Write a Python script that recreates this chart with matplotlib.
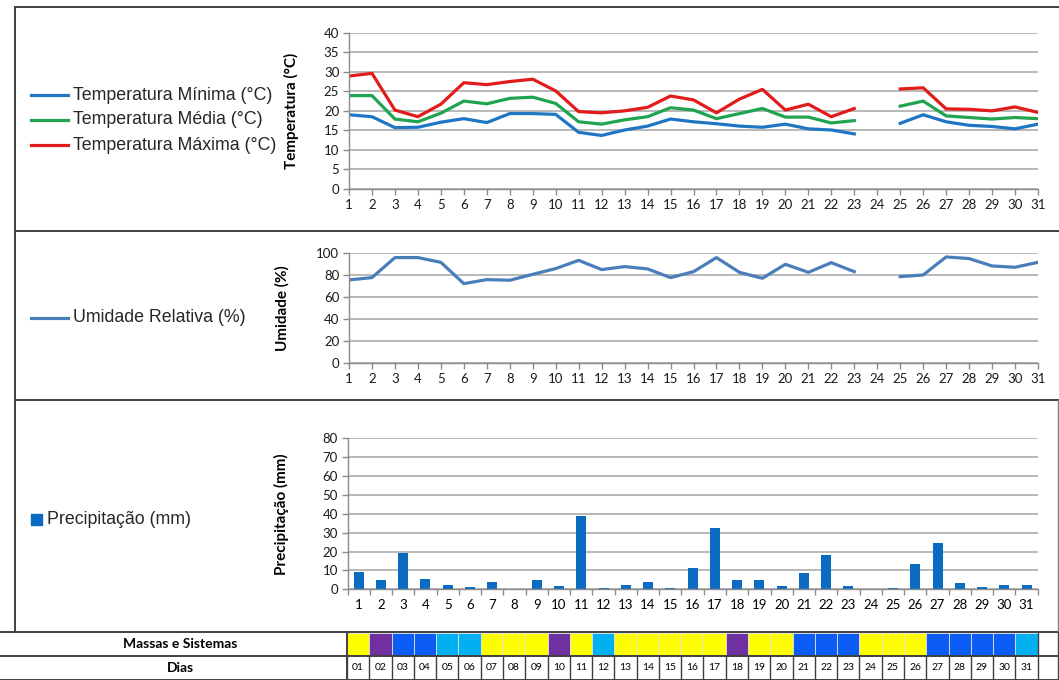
import matplotlib
matplotlib.use("Agg")
import matplotlib.pyplot as plt
from matplotlib.patches import Rectangle
from matplotlib.lines import Line2D
import numpy as np

nan = np.nan
dias = np.arange(1, 32)

t_min = [19.0, 18.5, 15.7, 15.8, 17.1, 18.0, 17.0, 19.3, 19.3, 19.1,
         14.5, 13.7, 15.1, 16.1, 17.9, 17.2, 16.7, 16.1, 15.8, 16.6,
         15.4, 15.1, 14.1, nan, 16.8, 19.0, 17.2, 16.3, 16.0, 15.4, 16.6]
t_med = [23.9, 23.9, 17.9, 17.2, 19.4, 22.5, 21.8, 23.2, 23.5, 21.9,
         17.2, 16.6, 17.7, 18.5, 20.8, 20.2, 18.0, 19.3, 20.6, 18.4,
         18.4, 16.9, 17.5, nan, 21.2, 22.5, 18.7, 18.3, 17.9, 18.3, 18.0]
t_max = [28.9, 29.6, 20.2, 18.5, 21.7, 27.2, 26.7, 27.5, 28.1, 25.1,
         19.8, 19.5, 20.0, 20.9, 23.8, 22.8, 19.5, 23.0, 25.5, 20.2,
         21.7, 18.5, 20.6, nan, 25.6, 25.9, 20.5, 20.4, 20.0, 21.0, 19.6]
umidade = [75.8, 77.9, 96.1, 96.1, 91.8, 72.4, 76.1, 75.5, 80.9, 86.1,
           93.6, 85.2, 87.9, 85.8, 77.9, 83.3, 96.1, 82.7, 77.3, 90.0,
           82.7, 91.5, 83.3, nan, 78.8, 80.3, 96.7, 95.2, 88.5, 87.3, 91.8]
precip = [9.2, 5.1, 19.3, 5.7, 2.3, 1.2, 3.7, 0.4, 5.0, 1.8,
          38.6, 0.7, 2.5, 3.7, 0.7, 11.3, 32.6, 4.8, 5.0, 1.6,
          8.7, 18.2, 1.6, 0.0, 0.9, 13.5, 24.4, 3.2, 1.1, 2.5, 2.5]

# sistemas atuantes por dia: A = amarelo, P = roxo, B = azul, C = azul claro
sistemas = ["A", "P", "B", "B", "C", "C", "A", "A", "A", "P",
            "A", "C", "A", "A", "A", "A", "A", "P", "A", "A",
            "B", "B", "B", "A", "A", "A", "B", "B", "B", "B", "C"]
cores_sistemas = {"A": "#FFFF00", "P": "#7030A0", "B": "#0A5CF5", "C": "#00B0F0"}

W, H = 1059, 680
fig = plt.figure(figsize=(W / 100, H / 100), dpi=100)

tick_font = "Lato"
leg_font = "Liberation Sans"
grid_c = "#A6A6A6"


def fx(px):
    return px / W


def fy(py):
    return 1 - py / H


def style_axis(ax, ymax, ystep):
    ax.set_ylim(0, ymax)
    ax.set_yticks(np.arange(0, ymax + 1, ystep))
    ax.grid(axis="y", color=grid_c, linewidth=1.1)
    ax.set_axisbelow(True)
    for s in ["top", "right"]:
        ax.spines[s].set_visible(False)
    for s in ["left", "bottom"]:
        ax.spines[s].set_color("#8C8C8C")
        ax.spines[s].set_linewidth(1.0)
    ax.tick_params(axis="both", colors="#8C8C8C", labelcolor="#1A1A1A",
                   labelsize=9.5, length=4, width=1.0, pad=3)
    ax.set_xticks(dias)
    ax.set_xticklabels([str(d) for d in dias], fontfamily=tick_font, fontsize=9.5)
    for lab in ax.get_yticklabels():
        lab.set_fontfamily(tick_font)


# temperatura
ax1 = fig.add_axes([fx(349), fy(189), fx(1038) - fx(349), fy(32.7) - fy(189)])
ax1.plot(dias, t_min, color="#1F77C4", lw=2.3)
ax1.plot(dias, t_med, color="#21A450", lw=2.3)
ax1.plot(dias, t_max, color="#E21B1B", lw=2.3)
ax1.set_xlim(1, 31)
style_axis(ax1, 40, 5)
ax1.set_ylabel("Temperatura (°C)", fontfamily=tick_font, fontweight="bold",
               fontsize=11, labelpad=18)

# umidade
ax2 = fig.add_axes([fx(349), fy(363.3), fx(1038) - fx(349), fy(253.3) - fy(363.3)])
ax2.plot(dias, umidade, color="#4A7EBB", lw=2.3)
ax2.set_xlim(1, 31)
style_axis(ax2, 100, 20)
ax2.set_ylabel("Umidade (%)", fontfamily=tick_font, fontweight="bold",
               fontsize=11, labelpad=19)

# precipitacao
ax3 = fig.add_axes([fx(347.5), fy(589.3), fx(1037.7) - fx(347.5), fy(438.3) - fy(589.3)])
ax3.bar(dias, precip, width=0.45, color="#0B6BC1")
ax3.set_xlim(0.5, 31.5)
style_axis(ax3, 80, 10)
ax3.set_xticks(np.arange(0.5, 32, 1), minor=False)
ax3.set_xticklabels([])
ax3.set_xticks(dias, minor=True)
ax3.set_xticklabels([str(d) for d in dias], minor=True, fontfamily=tick_font, fontsize=9.5)
ax3.tick_params(axis="x", which="minor", length=0, pad=7)
ax3.set_ylabel("Precipitação (mm)", fontfamily=tick_font, fontweight="bold",
               fontsize=11, labelpad=24)

# camada de desenho em pixels para molduras, legendas e tabela
ov = fig.add_axes([0, 0, 1, 1], zorder=-1)
ov.set_xlim(0, W)
ov.set_ylim(H, 0)
ov.axis("off")

frame = dict(color="#404040", lw=1.4)
for y in [7, 231, 400, 632]:
    ov.add_line(Line2D([15 if y < 632 else 0, W], [y, y], **frame))
ov.add_line(Line2D([15, 15], [7, 632], **frame))
ov.add_line(Line2D([1057.5, 1057.5], [400, 632], color="#808080", lw=1.0))

leg_items = [("Temperatura Mínima (°C)", "#1F77C4", 95),
             ("Temperatura Média (°C)", "#21A450", 120),
             ("Temperatura Máxima (°C)", "#E21B1B", 145)]
for txt, c, y in leg_items:
    ov.add_line(Line2D([31, 68], [y, y], color=c, lw=2.3))
    ov.text(73, y, txt, fontfamily=leg_font, fontsize=12.8, va="center",
            ha="left", color="#262626")

ov.add_line(Line2D([31, 68], [318, 318], color="#4A7EBB", lw=2.3))
ov.text(73, 318, "Umidade Relativa (%)", fontfamily=leg_font, fontsize=12.8,
        va="center", ha="left", color="#262626")

ov.add_patch(Rectangle((31, 514), 11, 11, color="#0B6BC1"))
ov.text(47, 519.5, "Precipitação (mm)", fontfamily=leg_font, fontsize=12.8,
        va="center", ha="left", color="#262626")

# tabela de sistemas
x0, cw = 347, 22.28
ov.add_line(Line2D([0, W], [656, 656], **frame))
ov.add_line(Line2D([0, W], [679.5, 679.5], **frame))
ov.add_line(Line2D([x0, x0], [632, 680], **frame))
ov.text(180, 644, "Massas e Sistemas", fontfamily=tick_font, fontweight="bold",
        fontsize=10, ha="center", va="center")
ov.text(180, 668, "Dias", fontfamily=tick_font, fontweight="bold",
        fontsize=10, ha="center", va="center")
for i, s in enumerate(sistemas):
    xl = x0 + i * cw
    ov.add_patch(Rectangle((xl, 633), cw, 23, facecolor=cores_sistemas[s],
                           edgecolor="#E0E0E0", lw=0.6))
    ov.add_line(Line2D([xl, xl], [656, 680], color="#404040", lw=1.0))
    ov.text(xl + cw / 2, 668, f"{dias[i]:02d}", fontfamily=tick_font,
            fontsize=7.5, ha="center", va="center")
xr = x0 + 31 * cw
ov.add_line(Line2D([xr, xr], [632, 680], color="#404040", lw=1.0))
ov.add_line(Line2D([1057.5, 1057.5], [632, 680], color="#404040", lw=1.0))

fig.savefig("out.png", dpi=100)
